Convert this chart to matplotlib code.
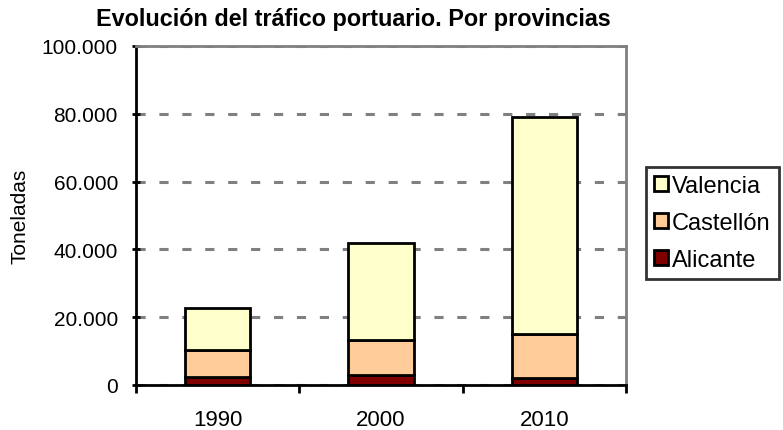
import matplotlib.pyplot as plt
import numpy as np
from matplotlib.ticker import FuncFormatter

plt.rcParams['font.family'] = ['Liberation Sans', 'DejaVu Sans']

years = ['1990', '2000', '2010']
alicante = [2500, 2900, 2000]
castellon = [7800, 10400, 12900]
valencia = [12400, 28700, 64100]

fig = plt.figure(figsize=(7.83, 4.31), dpi=100)
ax = fig.add_axes([136 / 783, 1 - 386 / 431, 490 / 783, 339 / 431])

x = np.arange(len(years))
w = 0.4
kw = dict(width=w, edgecolor='black', linewidth=2, zorder=3)
b1 = ax.bar(x, alicante, color='#800000', label='Alicante', **kw)
b2 = ax.bar(x, castellon, bottom=alicante, color='#FFCC99', label='Castellón', **kw)
bottom2 = np.array(alicante) + np.array(castellon)
b3 = ax.bar(x, valencia, bottom=bottom2, color='#FFFFCC', label='Valencia', **kw)

ax.set_xlim(-0.5, 2.5)
ax.set_ylim(0, 100000)
ax.set_yticks(np.arange(0, 100001, 20000))
ax.yaxis.set_major_formatter(FuncFormatter(lambda v, p: f'{int(v):,}'.replace(',', '.')))
ax.set_xticks([-0.5, 0.5, 1.5, 2.5], minor=False)
ax.set_xticklabels([])
ax.set_xticks(x, minor=True)
ax.set_xticklabels(years, minor=True)
ax.tick_params(axis='x', which='minor', length=0, labelsize=16, pad=17)
ax.tick_params(axis='x', which='major', length=6, width=2, direction='out')
ax.tick_params(axis='y', length=6, width=2, direction='inout', labelsize=15, pad=10)

ax.yaxis.grid(True, color='#808080', linestyle=(0, (3, 4.5)), linewidth=2.2, zorder=0)
for s in ['left', 'bottom']:
    ax.spines[s].set_color('black')
    ax.spines[s].set_linewidth(2)
for s in ['top', 'right']:
    ax.spines[s].set_color('#808080')
    ax.spines[s].set_linewidth(2)

ax.set_ylabel('Toneladas', fontsize=15, labelpad=9)
fig.suptitle('Evolución del tráfico portuario. Por provincias', fontsize=16.8,
             fontweight='bold', x=353 / 783, y=1 - 8 / 431, va='top')

leg = ax.legend(handles=[b3, b2, b1], loc='upper left', bbox_to_anchor=(646 / 783, 1 - 168 / 431),
                bbox_transform=fig.transFigure, fontsize=17, frameon=True, fancybox=False,
                handlelength=0.6, handleheight=0.6, handletextpad=0.15, borderpad=0.35,
                labelspacing=0.62, borderaxespad=0)
leg.get_frame().set_edgecolor('black')
leg.get_frame().set_linewidth(2)

fig.savefig('out.png', dpi=100)
